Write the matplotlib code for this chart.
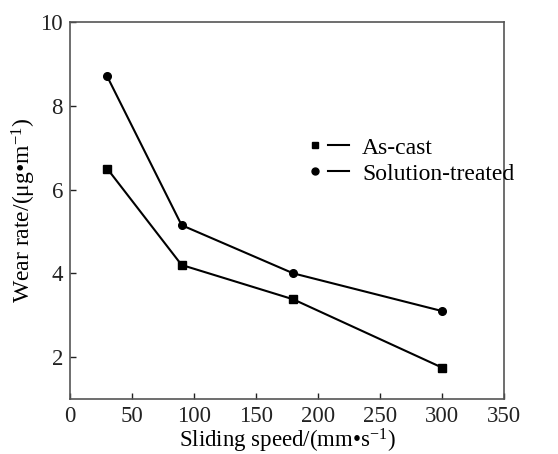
import numpy as np
import matplotlib
matplotlib.use("Agg")
import matplotlib.pyplot as plt
from matplotlib.lines import Line2D
from matplotlib.legend_handler import HandlerTuple

# Datos
velocidad = [30, 90, 180, 300]
as_cast = [6.5, 4.2, 3.38, 1.75]
solution_treated = [8.7, 5.15, 4.0, 3.1]

x_ticks = [0, 50, 100, 150, 200, 250, 300, 350]
y_ticks = [2, 4, 6, 8, 10]

plt.rcParams['font.family'] = ['Liberation Serif', 'DejaVu Serif']
plt.rcParams['mathtext.fontset'] = 'custom'
plt.rcParams['mathtext.rm'] = 'Liberation Serif'
plt.rcParams['mathtext.it'] = 'Liberation Serif:italic'

fig = plt.figure(figsize=(5.58, 4.54), dpi=100)
ax = fig.add_axes([70 / 558, 1 - 399 / 454, 434 / 558, 377 / 454])

ax.plot(velocidad, as_cast, color='black', lw=1.5, marker='s', ms=5.5)
ax.plot(velocidad, solution_treated, color='black', lw=1.5, marker='o', ms=5.5)

ax.set_xlim(0, 350)
ax.set_ylim(1, 10)
ax.set_xticks(x_ticks)
ax.set_yticks(y_ticks)
ax.tick_params(direction='in', length=4, width=1, labelsize=16.5, colors='#222222',
               top=False, right=False)
ax.tick_params(axis='x', pad=5)
ax.tick_params(axis='y', pad=5)
for s in ax.spines.values():
    s.set_color('#555555')
    s.set_linewidth(1.2)

ax.set_xlabel(r'Sliding speed/(mm•s$^{-1}$)', fontsize=16.5, labelpad=0)
ax.set_ylabel(r'Wear rate/(μg•m$^{-1}$)', fontsize=17, labelpad=2)

# Leyenda: marcador separado de la línea
h1 = (Line2D([], [], color='black', marker='s', ms=5, ls='none'),
      Line2D([], [], color='black', lw=1.5))
h2 = (Line2D([], [], color='black', marker='o', ms=5, ls='none'),
      Line2D([], [], color='black', lw=1.5))
ax.legend([h1, h2], ['As-cast', 'Solution-treated'],
          handler_map={tuple: HandlerTuple(ndivide=2, pad=0.1)},
          loc='upper left', bbox_to_anchor=(0.54, 0.695), frameon=False,
          fontsize=17, handlelength=1.9, handletextpad=0.55, labelspacing=0.2,
          borderaxespad=0, borderpad=0)

fig.savefig('out.png', dpi=100)
